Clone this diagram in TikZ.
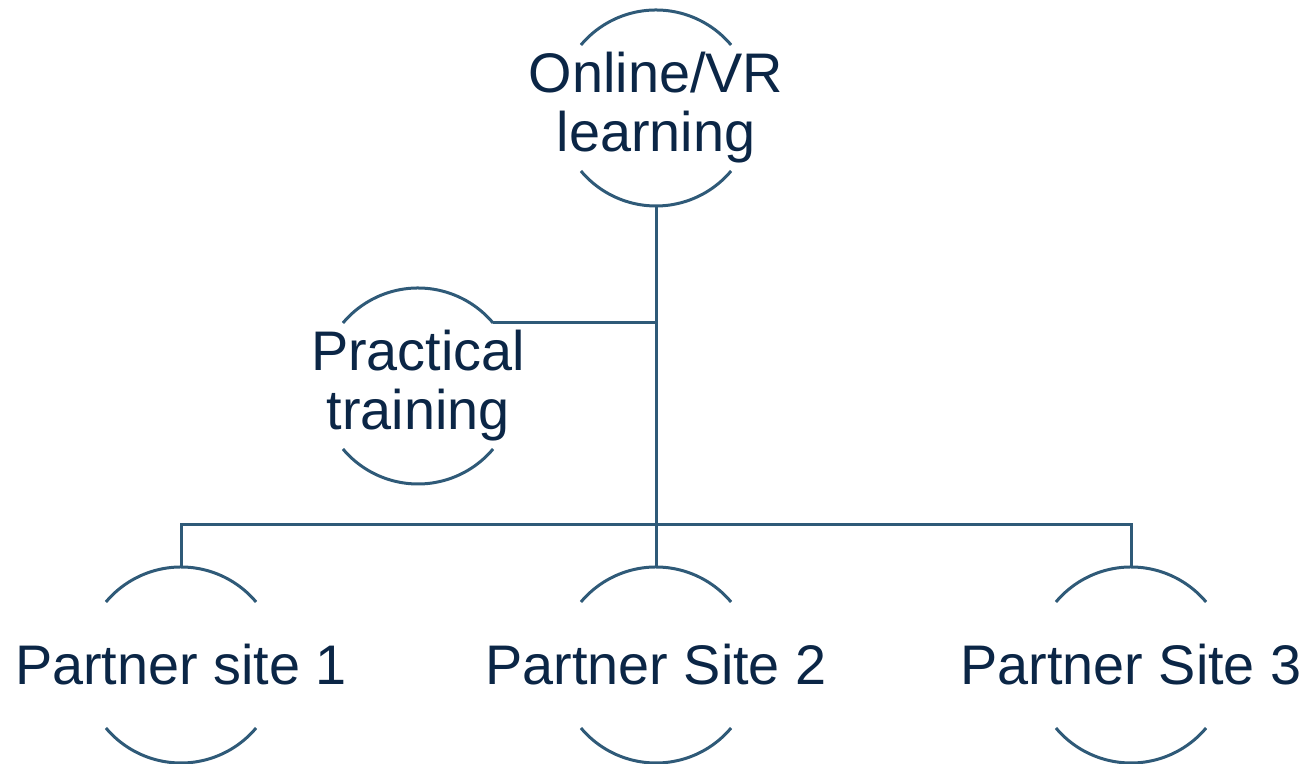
\documentclass[tikz,border=0pt]{standalone}
\usepackage{fontspec}
\setmainfont{Liberation Sans}
\usetikzlibrary{positioning,calc}
\definecolor{hubInk}{HTML}{0B2646}
\definecolor{hubLine}{HTML}{2F5A78}
\tikzset{
  hub/.style     = {circle, minimum size=98pt, inner sep=0pt, outer sep=0pt},
  hubtext/.style = {font=\fontsize{27.9pt}{29.5pt}\selectfont, text=hubInk,
                    align=center, inner sep=0pt},
  ring/.style    = {draw=hubLine, line width=1.5pt},
  link/.style    = {draw=hubLine, line width=1.5pt},
}

\begin{document}
\begin{tikzpicture}[x=0.5pt, y=0.5pt]
  \useasboundingbox (0,0) rectangle (1306,764);

  % the hubs, circle shapes carry the arcs, labels carry the words
  \node[hub, label={[hubtext]center:Online/VR\\learning}] (online) at (656,656) {};
  \node[hub, label={[hubtext]center:Practical\\training}] (practical) at (418,378) {};
  \node[hub, label={[hubtext]center:Partner site 1}] (site1) at (181,99) {};
  \node[hub, label={[hubtext]center:Partner Site 2}] (site2) at (656,99) {};
  \node[hub, label={[hubtext]center:Partner Site 3}] (site3) at (1131,99) {};

  % open circles: only the top and bottom arcs show
  \foreach \n in {online,practical,site1,site2,site3} {
    \draw[ring] (\n.40) arc[start angle=40, end angle=140, radius=49pt];
    \draw[ring] (\n.220) arc[start angle=220, end angle=320, radius=49pt];
  }

  % tree lines
  \coordinate (bus) at (online.south |- 0,239);
  \draw[link] (online.south) -- (bus);
  \draw[link] (practical.40) -- (practical.40 -| online.south);
  \draw[link] (site1.north) |- (site3.north |- bus) -- (site3.north);
  \draw[link] (site2.north) -- (bus);
\end{tikzpicture}
\end{document}
